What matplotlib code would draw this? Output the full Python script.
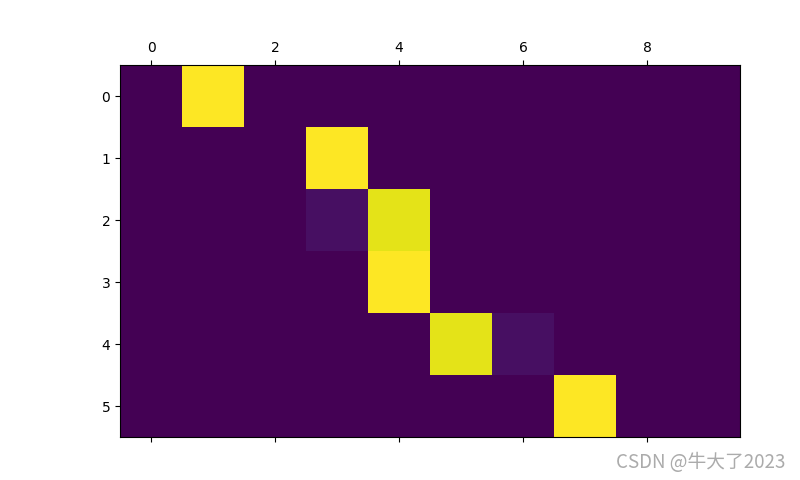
import numpy as np
import matplotlib
matplotlib.use("Agg")
import matplotlib.pyplot as plt

# attention weights: rows = output steps, cols = input positions
n_rows, n_cols = 6, 10
rows = [0, 1, 2, 2, 3, 4, 4, 5]
cols = [1, 3, 3, 4, 4, 5, 6, 7]
weights = [1.0, 1.0, 0.04, 0.96, 1.0, 0.96, 0.04, 1.0]

mat = np.zeros((n_rows, n_cols))
for r, c, w in zip(rows, cols, weights):
    mat[r, c] = w

fig = plt.figure(figsize=(8, 4.8), dpi=100)
ax = fig.add_axes([120 / 800, 43 / 480, 620 / 800, 372 / 480])
ax.matshow(mat, cmap="viridis", vmin=0, vmax=1, aspect="auto")

fig.text(785 / 800, 0.036, "CSDN @牛大了2023", ha="right", va="center",
         fontsize=13.5, color="#ababab",
         family=["Noto Sans CJK SC", "DejaVu Sans"])

plt.savefig("out.png")
